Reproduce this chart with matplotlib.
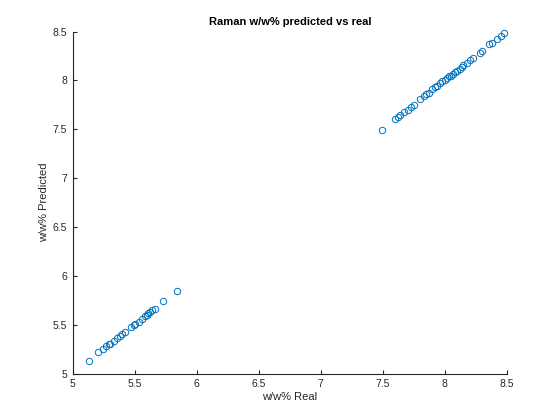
import matplotlib
matplotlib.use("Agg")
import matplotlib.pyplot as plt

real_low = [5.13, 5.20, 5.24, 5.27, 5.29, 5.30, 5.33, 5.36, 5.38, 5.40, 5.42, 5.47,
            5.49, 5.50, 5.53, 5.56, 5.58, 5.60, 5.61, 5.62, 5.64, 5.66, 5.73, 5.84]
pred_low = [5.13, 5.22, 5.25, 5.28, 5.30, 5.30, 5.34, 5.37, 5.39, 5.41, 5.43, 5.48,
            5.50, 5.51, 5.53, 5.56, 5.59, 5.60, 5.62, 5.63, 5.65, 5.66, 5.74, 5.85]
real_high = [7.49, 7.60, 7.62, 7.64, 7.67, 7.70, 7.73, 7.75, 7.80, 7.83, 7.85, 7.87,
             7.90, 7.92, 7.94, 7.96, 7.98, 8.00, 8.02, 8.03, 8.05, 8.07, 8.08, 8.10,
             8.12, 8.14, 8.15, 8.18, 8.20, 8.23, 8.28, 8.30, 8.36, 8.38, 8.42, 8.45, 8.48]
pred_high = [7.49, 7.61, 7.63, 7.65, 7.68, 7.70, 7.73, 7.75, 7.81, 7.84, 7.86, 7.87,
             7.91, 7.93, 7.94, 7.97, 7.99, 8.00, 8.02, 8.04, 8.05, 8.07, 8.09, 8.10,
             8.12, 8.14, 8.16, 8.18, 8.21, 8.23, 8.28, 8.30, 8.37, 8.38, 8.42, 8.45, 8.48]

xticks = [5, 5.5, 6, 6.5, 7, 7.5, 8, 8.5]
yticks = [5, 5.5, 6, 6.5, 7, 7.5, 8, 8.5]

plt.rcParams['font.family'] = ['Liberation Sans', 'DejaVu Sans']

fig = plt.figure(figsize=(5.6, 4.2), dpi=100)
ax = fig.add_axes([0.13, 0.11, 0.775, 0.815])
ax.plot(real_low + real_high, pred_low + pred_high, linestyle='none', marker='o',
        markersize=4.6, markerfacecolor='none', markeredgecolor='#0072BD',
        markeredgewidth=0.7, clip_on=False)
ax.set_xlim(5, 8.5)
ax.set_ylim(5, 8.5)
ax.set_xticks(xticks)
ax.set_yticks(yticks)
ax.set_xticklabels([f"{t:g}" for t in xticks])
ax.set_yticklabels([f"{t:g}" for t in yticks])
for s in ['top', 'right']:
    ax.spines[s].set_visible(False)
for s in ['left', 'bottom']:
    ax.spines[s].set_color('#262626')
    ax.spines[s].set_linewidth(0.8)
ax.tick_params(direction='in', length=3, width=0.8, colors='#262626', labelsize=7.5, pad=4)
ax.set_xlabel('w/w% Real', fontsize=8, color='#262626', labelpad=2)
ax.set_ylabel('w/w% Predicted', fontsize=8, color='#262626', labelpad=3)
ax.set_title('Raman w/w% predicted vs real', fontsize=8, fontweight='bold', color='black', pad=5)
fig.savefig('out.png', dpi=100)
